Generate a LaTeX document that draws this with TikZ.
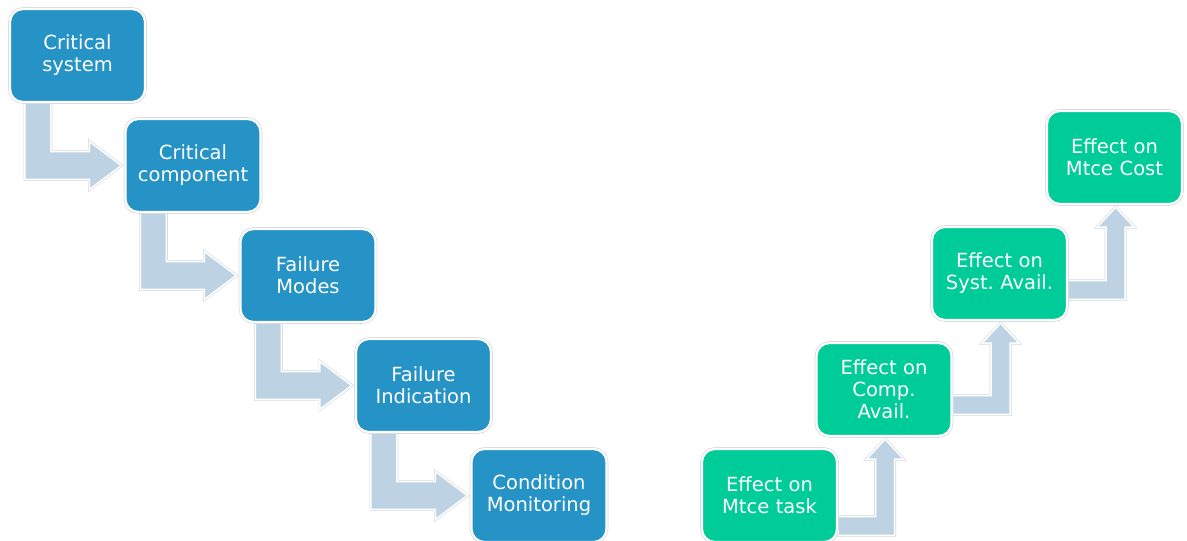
\documentclass[tikz,border=0pt]{standalone}
\usepackage{fontspec}
\setmainfont{DejaVu Sans}
\usetikzlibrary{calc, backgrounds}
\definecolor{boxblue}{HTML}{2593C5}
\definecolor{boxgreen}{HTML}{00CC99}
\definecolor{flowgray}{HTML}{BDD3E4}
\definecolor{rimgray}{HTML}{D4D8DC}
\frenchspacing

\begin{document}
\begin{tikzpicture}[
  x=1pt, y=-1pt,
  stage/.style={rounded corners=13pt, align=center, minimum width=135pt,
    minimum height=93pt, text width=125pt, text=white, draw=white, line width=2.2pt,
    preaction={draw=rimgray, line width=3.6pt},
    font=\fontsize{19.5}{22}\selectfont, inner sep=0pt},
  blue/.style={stage, fill=boxblue},
  green/.style={stage, fill=boxgreen},
  flow/.style={fill=flowgray, draw=white, line width=1.6pt, line join=miter,
    preaction={draw=rimgray, line width=2.8pt}},
  % down, then right into the next box
  benddown/.style={to path={
    let \p1=(\tikztostart.south west), \p2=(\tikztotarget.west) in
    (\x1+16pt,\y1) -- (\x1+16pt,\y2-14pt) -- (\x2-35pt,\y2-14pt)
    -- (\x2-35pt,\y2-24pt) -- (\x2-3pt,\y2) -- (\x2-35pt,\y2+24pt)
    -- (\x2-35pt,\y2+14pt) -- (\x1+42pt,\y2+14pt) -- (\x1+42pt,\y1) -- cycle}},
  % right, then up into the next box
  bendup/.style={to path={
    let \p1=(\tikztostart.east), \p2=(\tikztotarget.south east) in
    (\x1,\y1-#1pt) -- (\x2-77pt,\y1-#1pt) -- (\x2-77pt,\y2-22pt)
    -- (\x2-86pt,\y2-22pt) -- (\x2-67.5pt,\y2-2pt) -- (\x2-49pt,\y2-22pt)
    -- (\x2-58pt,\y2-22pt) -- (\x2-58pt,\y1-#1pt-19pt) -- (\x1,\y1-#1pt-19pt) -- cycle}}
]
\useasboundingbox (0,0) rectangle (1187,541);

\node[blue] (system) at (77.5,55.5) {Critical\\system};
\node[blue] (component) at (193,165.5) {Critical\\component};
\node[blue] (modes) at (308,275.5) {Failure\\Modes};
\node[blue] (indication) at (423.5,385.5) {Failure\\Indication};
\node[blue] (monitoring) at (539,495.5) {Condition\\Monitoring};

\node[green] (task) at (769.5,495.5) {Effect on\\Mtce task};
\node[green] (compavail) at (884,389.5) {Effect on\\Comp.\\Avail.};
\node[green] (systavail) at (999.5,273.5) {Effect on\\Syst. Avail.};
\node[green] (cost) at (1114.5,157.5) {Effect on\\Mtce Cost};

\begin{scope}[on background layer]
\path[flow] (system) to[benddown] (component);
\path[flow] (component) to[benddown] (modes);
\path[flow] (modes) to[benddown] (indication);
\path[flow] (indication) to[benddown] (monitoring);
\path[flow] (task) to[bendup=21] (compavail);
\path[flow] (compavail) to[bendup=6] (systavail);
\path[flow] (systavail) to[bendup=7] (cost);
\end{scope}
\end{tikzpicture}
\end{document}
